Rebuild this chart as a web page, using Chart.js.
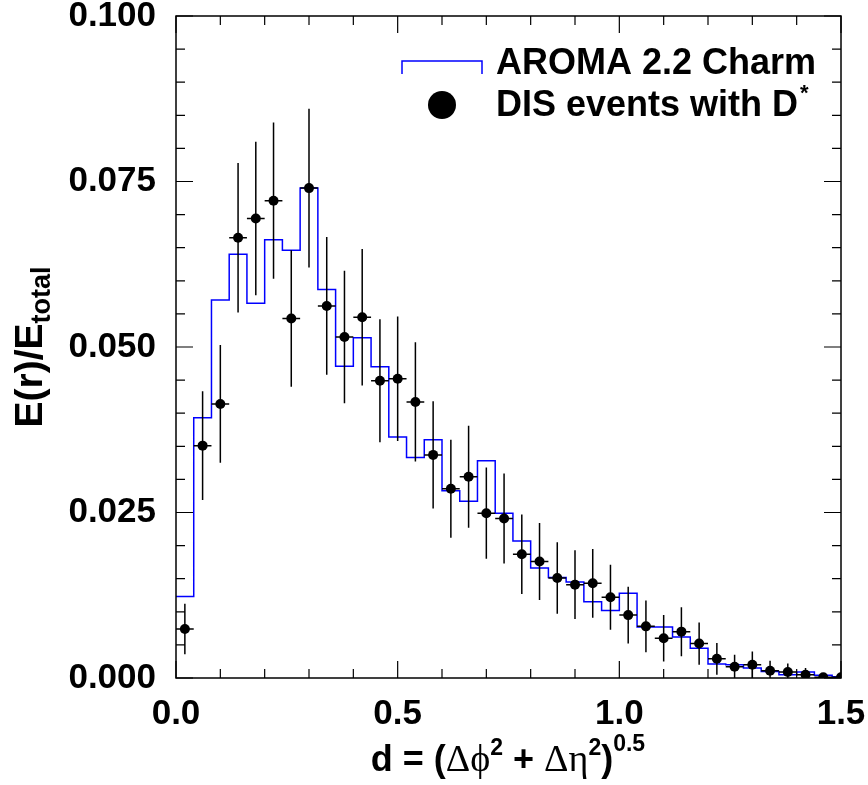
<!DOCTYPE html>
<html>
<head>
<meta charset="utf-8">
<script src="https://cdn.jsdelivr.net/npm/chart.js@4"></script>
<style>
  html, body { margin: 0; padding: 0; background: #ffffff; }
  #wrap { width: 868px; height: 785px; position: relative; }
</style>
</head>
<body>
<div id="wrap"><canvas id="c" width="868" height="785"></canvas></div>
<script>
// Energy flow E(r)/E_total versus distance d from the D* axis
const binWidth = 0.04;
const binCenters = [0.02, 0.06, 0.10, 0.14, 0.18, 0.22, 0.26, 0.30, 0.34, 0.38,
                    0.42, 0.46, 0.50, 0.54, 0.58, 0.62, 0.66, 0.70, 0.74, 0.78,
                    0.82, 0.86, 0.90, 0.94, 0.98, 1.02, 1.06, 1.10, 1.14, 1.18,
                    1.22, 1.26, 1.30, 1.34, 1.38, 1.42, 1.46, 1.50];

// DIS events with D* (measured points)
const dataValues = [0.0074, 0.0351, 0.0414, 0.0665, 0.0694, 0.0721, 0.0543, 0.0740, 0.0562, 0.0515,
                    0.0545, 0.0449, 0.0452, 0.0417, 0.0337, 0.0286, 0.0304, 0.0249, 0.0241, 0.0187,
                    0.0176, 0.0151, 0.0141, 0.0143, 0.0122, 0.0095, 0.0078, 0.0060, 0.0070, 0.0052,
                    0.0029, 0.0017, 0.0020, 0.0011, 0.0009, 0.0005, 0.0001, 0.0001];
const dataErrors = [0.0038, 0.0082, 0.0089, 0.0113, 0.0116, 0.0118, 0.0103, 0.0120, 0.0104, 0.0100,
                    0.0103, 0.0093, 0.0094, 0.0090, 0.0081, 0.0074, 0.0077, 0.0069, 0.0068, 0.0060,
                    0.0058, 0.0054, 0.0052, 0.0052, 0.0049, 0.0043, 0.0039, 0.0035, 0.0037, 0.0032,
                    0.0024, 0.0018, 0.0020, 0.0015, 0.0013, 0.0010, 0.0006, 0.0005];

// AROMA 2.2 charm simulation (histogram contents)
const mcValues = [0.0123, 0.0393, 0.0571, 0.0640, 0.0566, 0.0662, 0.0646, 0.0740, 0.0587, 0.0471,
                  0.0514, 0.0470, 0.0364, 0.0333, 0.0360, 0.0283, 0.0267, 0.0328, 0.0249, 0.0207,
                  0.0166, 0.0152, 0.0145, 0.0115, 0.0102, 0.0128, 0.0077, 0.0077, 0.0062, 0.0045,
                  0.0021, 0.0020, 0.0015, 0.0010, 0.0005, 0.0009, 0.0004, 0.0002];

const xTickValues = [0.0, 0.5, 1.0, 1.5];
const yTickValues = [0.000, 0.025, 0.050, 0.075, 0.100];
const xMinorStep = 0.1;
const yMinorStep = 0.005;

const seriesNames = ['AROMA 2.2 Charm', 'DIS events with D'];

const SANS = '"Liberation Sans", Arial, Helvetica, sans-serif';
const SERIF = '"Liberation Serif", "Times New Roman", serif';

// histogram as a step line through the bin edges
const histPoints = binCenters.map((c, i) => ({ x: c - binWidth / 2, y: mcValues[i] }));
histPoints.push({ x: binCenters[binCenters.length - 1] + binWidth / 2, y: mcValues[mcValues.length - 1] });

const dataPoints = binCenters.map((c, i) => ({ x: c, y: dataValues[i], err: dataErrors[i] }));

const decorPlugin = {
  id: 'decor',
  afterDatasetsDraw(chart) {
    const { ctx, chartArea: a, scales: { x, y } } = chart;
    // error bars
    ctx.save();
    ctx.beginPath();
    ctx.rect(a.left, a.top, a.right - a.left, a.bottom - a.top);
    ctx.clip();
    ctx.strokeStyle = '#000';
    ctx.lineWidth = 1.5;
    dataPoints.forEach(p => {
      const px = x.getPixelForValue(p.x);
      const py = y.getPixelForValue(p.y);
      ctx.beginPath();
      ctx.moveTo(px, y.getPixelForValue(p.y + p.err));
      ctx.lineTo(px, y.getPixelForValue(Math.max(0, p.y - p.err)));
      ctx.moveTo(x.getPixelForValue(p.x - binWidth / 2), py);
      ctx.lineTo(x.getPixelForValue(p.x + binWidth / 2), py);
      ctx.stroke();
    });
    ctx.restore();
  },
  afterDraw(chart) {
    const { ctx, chartArea: a, scales: { x, y } } = chart;
    ctx.save();
    // frame
    ctx.strokeStyle = '#000';
    ctx.lineWidth = 1.5;
    ctx.strokeRect(a.left, a.top, a.right - a.left, a.bottom - a.top);

    // ticks on all four sides, pointing inwards
    const majorLen = 17, minorLen = 9;
    ctx.lineWidth = 1.2;
    ctx.beginPath();
    const nx = Math.round((x.max - x.min) / xMinorStep);
    for (let i = 0; i <= nx; i++) {
      const v = x.min + i * xMinorStep;
      const isMajor = xTickValues.some(t => Math.abs(t - v) < 1e-9);
      const len = isMajor ? majorLen : minorLen;
      const px = x.getPixelForValue(v);
      ctx.moveTo(px, a.bottom); ctx.lineTo(px, a.bottom - len);
      ctx.moveTo(px, a.top); ctx.lineTo(px, a.top + len);
    }
    const ny = Math.round((y.max - y.min) / yMinorStep);
    for (let i = 0; i <= ny; i++) {
      const v = y.min + i * yMinorStep;
      const isMajor = yTickValues.some(t => Math.abs(t - v) < 1e-9);
      const len = isMajor ? majorLen : minorLen;
      const py = y.getPixelForValue(v);
      ctx.moveTo(a.left, py); ctx.lineTo(a.left + len, py);
      ctx.moveTo(a.right, py); ctx.lineTo(a.right - len, py);
    }
    ctx.stroke();

    // legend
    const hist = chart.data.datasets[0];
    ctx.strokeStyle = hist.borderColor;
    ctx.lineWidth = 1.5;
    ctx.beginPath();
    ctx.moveTo(402, 74); ctx.lineTo(402, 61); ctx.lineTo(482, 61); ctx.lineTo(482, 74);
    ctx.stroke();
    ctx.fillStyle = '#000';
    ctx.beginPath();
    ctx.arc(442, 105, 14, 0, Math.PI * 2);
    ctx.fill();
    ctx.font = 'bold 36px ' + SANS;
    ctx.textBaseline = 'alphabetic';
    ctx.textAlign = 'left';
    ctx.fillText(seriesNames[0], 496, 74);
    ctx.fillText(seriesNames[1], 496, 116);
    const w2 = ctx.measureText(seriesNames[1]).width;
    ctx.font = 'bold 22px ' + SANS;
    ctx.fillText('*', 496 + w2 + 2, 100);

    // x-axis title: d = (Δφ² + Δη²)^0.5
    const segs = [
      { t: 'd = (', f: 'bold 36px ' + SANS, dy: 0 },
      { t: '\u0394\u03D5', f: '38px ' + SERIF, dy: 0 },
      { t: '2', f: 'bold 23px ' + SANS, dy: -16 },
      { t: ' + ', f: 'bold 36px ' + SANS, dy: 0 },
      { t: '\u0394\u03B7', f: '38px ' + SERIF, dy: 0 },
      { t: '2', f: 'bold 23px ' + SANS, dy: -16 },
      { t: ')', f: 'bold 36px ' + SANS, dy: 0 },
      { t: '0.5', f: 'bold 23px ' + SANS, dy: -20 }
    ];
    let total = 0;
    segs.forEach(s => { ctx.font = s.f; s.w = ctx.measureText(s.t).width; total += s.w; });
    let cx = 508 - total / 2;
    const base = 771;
    segs.forEach(s => { ctx.font = s.f; ctx.fillText(s.t, cx, base + s.dy); cx += s.w; });

    // y-axis title: E(r)/E_total, rotated
    ctx.translate(42, 0);
    ctx.rotate(-Math.PI / 2);
    ctx.font = 'bold 39px ' + SANS;
    const mainT = 'E(r)/E';
    const mw = ctx.measureText(mainT).width;
    ctx.font = 'bold 27px ' + SANS;
    const sw = ctx.measureText('total').width;
    const start = -(347 + (mw + sw) / 2);
    ctx.font = 'bold 39px ' + SANS;
    ctx.fillText(mainT, start, 0);
    ctx.font = 'bold 27px ' + SANS;
    ctx.fillText('total', start + mw, 8);
    ctx.restore();
  }
};

const tickFont = { family: SANS, weight: 'bold', size: 35, lineHeight: 1.0 };

function noAutoPadding(s) {
  s.paddingLeft = 0; s.paddingRight = 0; s.paddingTop = 0; s.paddingBottom = 0;
}

new Chart(document.getElementById('c').getContext('2d'), {
  data: {
    datasets: [
      {
        type: 'line',
        label: seriesNames[0],
        data: histPoints,
        stepped: 'before',
        borderColor: '#0000ff',
        borderWidth: 1.5,
        pointRadius: 0,
        fill: false,
        order: 2
      },
      {
        type: 'scatter',
        label: seriesNames[1],
        data: dataPoints,
        pointRadius: 5,
        pointBackgroundColor: '#000000',
        pointBorderColor: '#000000',
        pointBorderWidth: 0,
        order: 1
      }
    ]
  },
  options: {
    responsive: false,
    animation: false,
    devicePixelRatio: 1,
    layout: { padding: { top: 16, right: 27, left: 0, bottom: 0 } },
    plugins: { legend: { display: false }, tooltip: { enabled: false } },
    scales: {
      x: {
        type: 'linear', min: 0, max: 1.5,
        afterFit(s) { s.height = 107; noAutoPadding(s); },
        afterBuildTicks(s) { s.ticks = xTickValues.map(v => ({ value: v })); },
        grid: { display: false },
        border: { display: false },
        ticks: {
          padding: 11, color: '#000', font: tickFont, autoSkip: false, maxRotation: 0,
          callback: v => Number(v).toFixed(1)
        }
      },
      y: {
        type: 'linear', min: 0, max: 0.1,
        afterFit(s) { s.width = 176; noAutoPadding(s); },
        afterBuildTicks(s) { s.ticks = yTickValues.map(v => ({ value: v })); },
        grid: { display: false },
        border: { display: false },
        ticks: {
          padding: 12, color: '#000', font: tickFont, autoSkip: false,
          callback: v => Number(v).toFixed(3)
        }
      }
    }
  },
  plugins: [decorPlugin]
});
</script>
</body>
</html>
